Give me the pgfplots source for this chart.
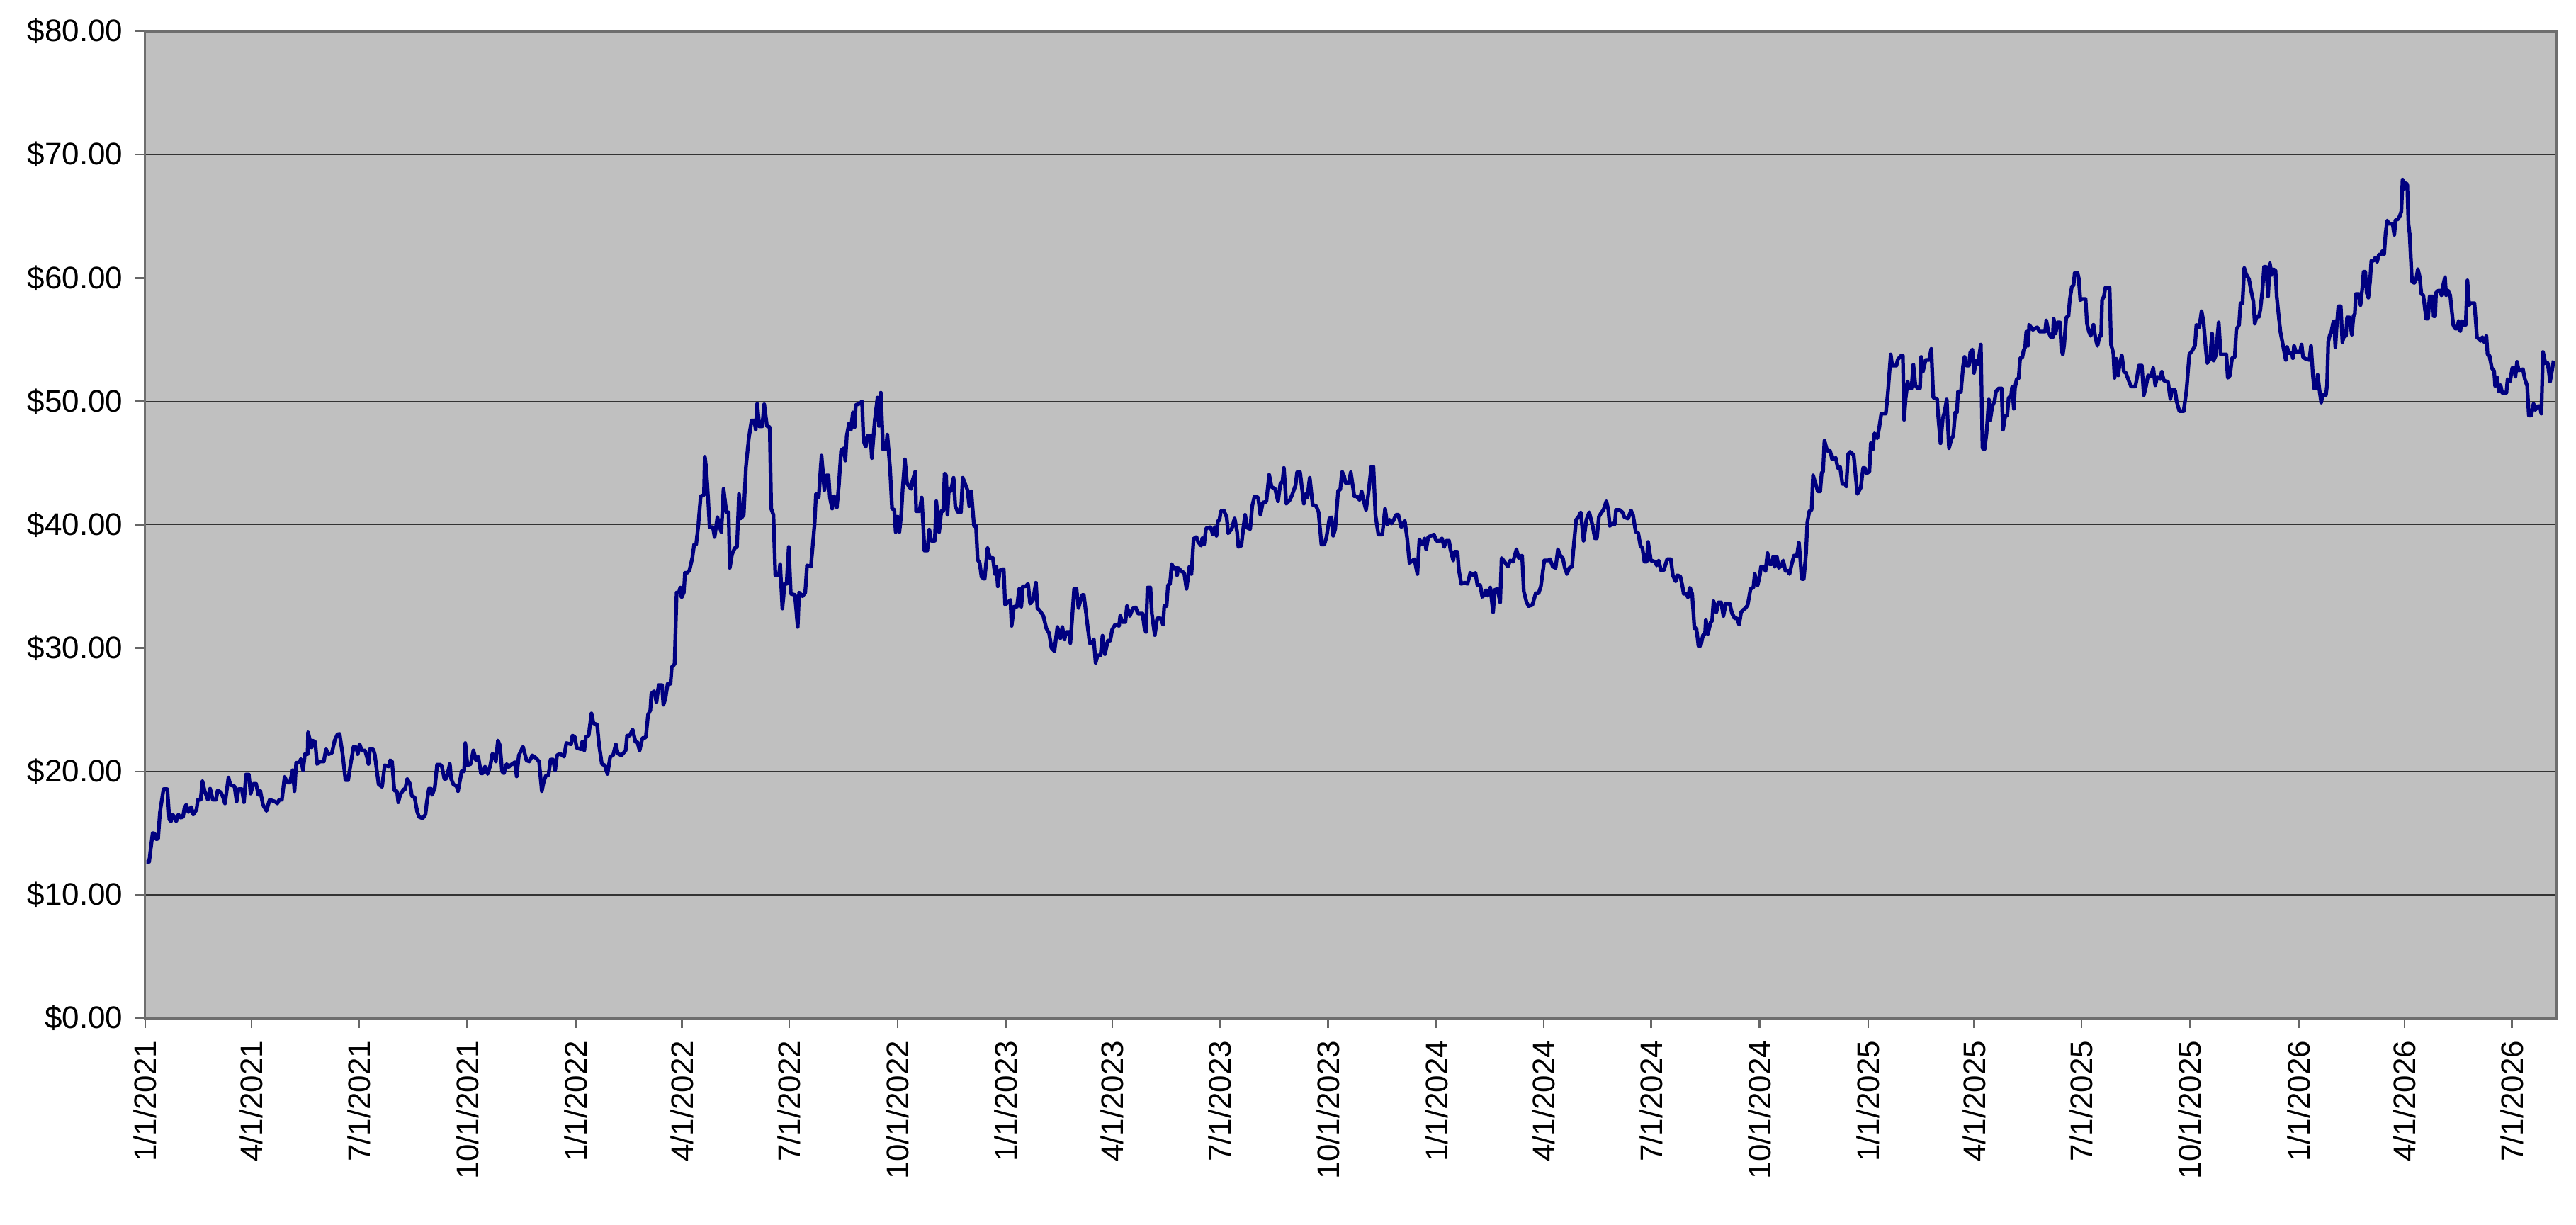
\documentclass[border=0pt]{standalone}
\usepackage{fontspec}
\setmainfont{Liberation Sans}
\usepackage{pgfplots}
\pgfplotsset{compat=1.18}
\definecolor{plotgray}{RGB}{192,192,192}
\definecolor{framegray}{RGB}{110,110,110}
\definecolor{navyline}{RGB}{0,0,128}
\begin{document}
\begin{tikzpicture}
\begin{axis}[
 width=680.6pt, height=278.6pt, scale only axis,
 xmin=0, xmax=2044.5, ymin=0, ymax=80,
 axis background/.style={fill=plotgray},
 axis line style={draw=framegray, line width=0.6pt},
 ytick={0,10,20,30,40,50,60,70,80},
 yticklabels={\$0.00,\$10.00,\$20.00,\$30.00,\$40.00,\$50.00,\$60.00,\$70.00,\$80.00},
 xtick={0,90,181,273,365,455,546,638,730,820,911,1003,1095,1186,1277,1369,1461,1551,1642,1734,1826,1916,2007},
 xticklabels={1/1/2021,4/1/2021,7/1/2021,10/1/2021,1/1/2022,4/1/2022,7/1/2022,10/1/2022,1/1/2023,4/1/2023,7/1/2023,10/1/2023,1/1/2024,4/1/2024,7/1/2024,10/1/2024,1/1/2025,4/1/2025,7/1/2025,10/1/2025,1/1/2026,4/1/2026,7/1/2026},
 xticklabel style={rotate=90, anchor=east},
 yticklabel style={anchor=east},
 tick align=outside, xtick pos=bottom, ytick pos=left,
 major tick length=2.8pt,
 tick style={draw=black!60, line width=0.5pt},
 ymajorgrids, grid style={draw=black!80, line width=0.3pt},
 tick label style={font=\fontsize{8.8}{10}\selectfont},
]
\addplot[navyline, line width=1.05pt, line join=round] table {
x y
1 12.67
3.3 12.67
6.3 15.0
7.9 14.96
9.5 14.5
10.9 14.55
12.5 16.7
15.5 18.56
18.7 18.56
20.5 16.1
21.9 15.96
23.3 16.5
26.3 15.96
28.1 16.5
29.7 16.25
32 16.3
33.2 17.0
34.8 17.3
36.6 16.7
39 17.1
40.7 16.5
43.5 16.9
44.6 17.7
47 17.7
48.5 19.2
50.4 18.4
53.1 17.7
55 18.6
57.3 17.7
60 17.7
61.4 18.45
64.2 18.3
66 17.9
67.6 17.4
70.6 19.5
72.2 18.9
75.7 18.8
77.5 17.55
79.1 18.56
81.9 18.56
83.7 17.5
85.5 19.75
87.8 19.75
89.4 18.2
91.7 19.0
94 19.0
95.9 18.1
97.5 18.45
99.8 17.3
102.8 16.8
105.5 17.7
110.1 17.55
112 17.4
113.6 17.7
115.9 17.7
118.2 19.56
120.4 19.1
122.7 19.1
125 20.1
126.6 18.4
128 20.7
130.3 20.7
132 21.0
133.8 20.1
135.4 21.4
137.7 21.4
138.1 23.16
141.1 21.95
141.8 22.5
144.1 22.4
145.7 20.6
148 20.8
151.4 20.8
153.3 21.8
155.6 21.4
158.3 21.5
160.6 22.5
163 23.0
164.8 23.04
167.5 21.3
169.8 19.3
172.1 19.3
174 20.5
176.7 22.0
179 21.95
180.2 21.4
181.8 22.2
183.6 21.7
186.4 21.7
188.2 21.1
189.3 20.6
190.5 21.8
193.3 21.8
194.6 21.4
197.9 18.95
200.8 18.75
203.1 20.5
206.6 20.4
207.7 20.9
209.3 20.8
211.2 18.45
213.5 18.4
214.6 17.5
216.2 18.1
219.2 18.56
220.4 18.56
222.2 19.4
224.5 19.0
226.1 18.0
228.4 17.9
230.7 16.7
232.3 16.3
235.3 16.2
237.6 16.5
238.7 17.45
240.6 18.6
242.2 18.6
243.3 18.1
245.6 18.7
247.5 20.55
250.2 20.55
251.5 20.4
253.7 19.4
255.3 19.4
256.7 19.94
258.3 20.6
259.4 19.4
261.3 18.95
264 18.8
265.2 18.4
267.5 19.56
268.2 20.0
270.4 20.0
271.4 22.3
273.2 20.5
276 20.6
278.3 21.7
280.5 20.9
282.4 21.2
284.7 19.85
286.5 19.85
288.1 20.4
290.4 19.8
292.7 20.5
294.3 21.4
296.2 21.35
297.3 20.8
299.1 22.5
300.8 22.1
302.6 20.0
304.2 19.85
306.5 20.6
308.1 20.35
310.4 20.55
313.4 20.75
315 19.6
316.8 21.3
320.3 22.0
323.3 20.9
325.6 20.8
328.3 21.3
331.1 21.1
334.0 20.8
336.3 18.4
338 19.2
339.8 19.66
342 19.7
343.7 20.95
345.7 20.97
347.6 20.1
349.2 21.3
351.6 21.45
355.2 21.2
357.1 22.3
361.1 22.2
362.3 22.9
364.2 22.8
365.9 21.9
369.4 21.8
370.6 22.4
372.3 21.7
373.7 22.8
376 22.9
378.4 24.7
380.1 23.9
383.2 23.8
384.8 22.2
387.2 20.6
389.6 20.5
392 19.8
394.3 21.2
396.7 21.3
399.1 22.2
400.7 21.45
403.8 21.3
407.4 21.7
408.6 22.9
410.9 22.9
413.3 23.4
415.7 22.4
417.3 22.4
419.2 21.7
421.6 22.7
424.5 22.75
426.4 24.6
428.3 24.95
429.2 26.3
431.6 26.5
433.5 25.6
435.4 27.0
438.2 27.0
439.4 25.4
441.1 25.9
443 27.1
445.4 27.1
446.5 28.45
448.9 28.7
450.6 34.5
452.5 34.5
453.7 34.9
454.8 34.1
456.7 34.5
457.7 36.1
459.6 36.1
461.5 36.3
463.9 37.3
465.5 38.4
467.2 38.4
469.1 40.05
471 42.3
473.8 42.4
474.5 45.5
475.7 44.6
477.4 42.0
478.6 39.8
481.4 39.8
482.8 39.0
485.2 40.6
486.9 39.9
488.5 39.4
490.4 42.9
492.8 41.0
494.7 41.0
495.7 36.5
497.6 37.6
499.9 38.1
501.8 38.2
503.5 42.5
505.2 40.5
507.5 40.8
509.4 44.7
511.8 47.0
514.2 48.45
516.5 48.45
517.7 47.7
518.9 49.8
520.8 47.97
523.2 47.97
524.9 49.76
527.2 48.0
529.6 47.9
530.8 41.3
532.7 40.8
534.3 35.9
537.4 35.9
538.4 36.8
540.3 33.2
542.2 35.2
543.9 35.2
545.7 38.2
547.4 34.4
551 34.3
553.3 31.7
554.5 34.5
557.4 34.2
559.7 34.5
561.2 36.7
564.5 36.6
567.6 40.05
568.8 42.5
571.1 42.2
573.5 45.6
575.9 42.8
577.8 44.0
579.4 44.0
580.6 42.2
582.5 41.3
584.2 42.3
586.5 41.4
588.2 43.2
590.1 46.0
592.5 46.2
593.7 45.2
594.9 47.2
596.8 48.2
598.4 47.7
600.1 49.1
601.5 47.9
602.5 49.7
605.5 49.8
607.9 50.0
609.1 46.8
611 46.3
612.6 47.2
615 47.2
616.2 45.4
618.6 48.4
621 50.3
622.2 48.0
623.8 50.7
625.7 46.1
628.1 46.1
629.3 47.3
631.6 44.6
633.3 41.3
635.2 41.2
636.4 39.4
638 40.65
639.5 39.4
641.1 40.8
642.3 42.9
644.2 45.3
645.9 43.4
647.5 43.1
649.4 42.9
650.6 43.55
653 44.3
653.7 41.1
656.6 41.1
658.5 42.2
660.8 37.9
663.2 37.9
664.9 39.6
666.5 38.7
669.6 38.7
670.8 41.9
673.2 39.4
675.1 41.1
676.7 41.1
677.9 44.15
679.1 44.0
680.3 40.8
681.5 42.9
683.1 42.7
685.5 43.8
686.9 41.5
689.3 41.0
691.7 41.0
693.3 43.8
695.7 43.2
697.3 42.8
698.8 41.5
700.5 42.7
702.8 39.9
704.5 39.9
705.9 37.15
707.6 36.9
709.2 35.75
711.8 35.6
714.3 38.1
716.3 37.3
718.8 37.3
720.5 36.0
721.8 36.6
723 35.0
724.7 36.3
728 36.4
729.2 33.5
733.7 33.9
734.7 31.8
736.7 33.35
739.2 33.35
741.2 34.8
742.9 33.35
744.2 35.0
746.6 35.0
748.6 35.2
750.4 33.6
752.9 33.9
755.3 35.3
756.6 33.25
759.1 32.96
761.6 32.6
764.1 31.6
766.5 31.2
768.5 30.0
771 29.75
773.5 31.7
776 30.8
777.7 31.7
779.5 30.7
781 31.3
783.5 31.3
784.5 30.4
786 32.4
787.7 34.8
789.7 34.8
791.4 33.25
794.4 34.3
795.9 34.3
797.6 33.0
800.9 30.4
803.4 30.4
804.4 30.7
805.9 28.8
807.6 29.4
810.1 29.4
811.8 31.0
813.8 29.5
816.3 30.6
818.3 30.6
820 31.5
822.5 31.9
825.8 31.8
826.8 32.6
828.7 32.1
831.2 32.1
832.5 33.4
835 32.6
837.4 33.2
839.9 33.3
841.7 32.8
845.7 32.8
847.4 31.6
848.6 31.3
849.9 34.9
852.4 34.9
853.6 32.8
856.1 31.05
858.1 32.4
861.1 32.4
863.1 31.9
864.1 33.4
866.1 33.4
867.3 35.1
869 35.2
870.5 36.8
872.3 36.4
874 36.5
875 35.9
876 36.5
879 36.2
881 36.1
883 34.8
885.5 36.6
887.2 36.0
889 38.85
891.4 39.0
892.9 38.6
895.4 38.3
896.4 38.9
897.9 38.4
899.6 39.7
903.4 39.8
905.4 39.2
907.1 39.8
908.4 39.1
909.6 40.3
910.9 40.35
912.1 41.1
914.6 41.15
917.1 40.6
918.3 39.3
921.3 39.65
923.8 40.5
925.8 39.5
927 38.2
929.5 38.3
931.2 39.75
932.7 40.8
934.5 39.75
937 39.65
938.7 41.5
940.7 42.3
943.7 42.2
945.7 40.8
947.7 41.8
950.7 41.85
953.1 44.05
955.1 43.06
958.1 42.9
960.6 41.9
962.6 43.3
964.4 43.5
965.6 44.6
967.6 41.7
970.6 42.0
972.5 42.4
975.5 43.2
976.8 44.25
979.3 44.25
982.5 41.7
984.2 42.5
985.5 42.2
987.5 43.8
990 41.6
993 41.5
995 41.0
997.4 38.4
999.9 38.4
1001.7 39.0
1004.2 40.5
1005.9 40.6
1007.4 39.1
1009.1 39.65
1011.6 42.75
1013.4 42.85
1014.9 44.3
1016.6 43.95
1017.8 43.4
1020.8 43.4
1022.3 44.25
1025.3 42.3
1027.3 42.3
1029.8 42.0
1031.5 42.7
1033.3 41.9
1035.2 41.2
1037.2 42.5
1039.7 44.7
1041.5 44.7
1043.2 40.8
1045.7 39.2
1049 39.2
1051.4 41.3
1053.2 40.0
1055.1 40.4
1057.1 40.1
1058.8 40.4
1060.6 40.8
1062.6 40.8
1065.1 39.8
1068.1 40.3
1070.1 38.9
1072.1 36.9
1076.3 37.2
1078.8 36.0
1080.5 38.8
1083 38.4
1085 38.9
1086.2 38.0
1088 39.0
1092.8 39.2
1094.7 38.7
1098.4 38.7
1099.6 38.9
1101.5 38.2
1103.2 38.7
1105.6 38.7
1106.8 38.0
1109.2 37.1
1110.4 37.8
1112.8 37.8
1114 36.3
1116 35.2
1118.9 35.3
1121.3 35.2
1123.7 36.1
1126.1 35.9
1128 36.1
1129.7 35.1
1132.1 35.1
1133.8 34.15
1135.7 34.3
1137 34.7
1138.2 34.25
1140.6 34.9
1143 32.9
1144.2 34.7
1146.6 34.8
1149 33.7
1150.2 37.3
1152.6 37.0
1155.5 36.6
1157.5 37.1
1159.9 37.0
1162.8 38.0
1164.7 37.3
1167.6 37.5
1169 34.6
1171.4 33.7
1173.1 33.4
1176.3 33.5
1179.2 34.45
1181.6 34.45
1183.5 35.0
1186.4 37.1
1190 37.1
1191.2 37.2
1193.6 36.6
1196 36.5
1198 38.0
1200.4 37.4
1202.1 37.3
1203.8 36.5
1205.7 36.0
1207.6 36.5
1210 36.6
1211 37.9
1213.4 40.4
1215.3 40.6
1217.3 41.0
1219.7 38.7
1222.1 40.4
1224.5 41.0
1227.4 39.9
1229.3 38.9
1231 38.9
1232.7 40.65
1234.6 40.95
1236.6 41.2
1239 41.9
1240.7 41.2
1241.9 39.9
1244.3 40.1
1246.2 40.05
1247.2 41.2
1250.3 41.2
1252.7 41.0
1254.4 40.6
1257.5 40.5
1259.9 41.15
1261.6 40.8
1264 39.4
1266 39.35
1267.9 38.3
1269.6 38.1
1271.3 37.0
1273.2 37.0
1274.4 38.6
1276.8 37.1
1280.4 37.0
1281.7 36.7
1283.4 37.1
1285.3 36.3
1287.7 36.3
1290.6 37.2
1293.7 37.2
1295.4 35.9
1297.8 35.4
1299.3 35.9
1301.7 35.8
1303.4 35.1
1304.6 34.4
1307 34.4
1308.2 34.1
1309.9 34.9
1311.8 34.4
1313.7 31.6
1315.4 31.6
1317.1 30.2
1319.1 30.2
1321 31.05
1322.7 31.15
1323.4 32.3
1325.1 31.15
1327.5 32.1
1328.7 32.2
1329.9 33.8
1332.3 32.9
1334 33.7
1336.4 33.7
1338.3 32.6
1340.3 33.6
1343.6 33.6
1345.6 32.8
1348 32.4
1349.9 32.4
1351.6 31.9
1353.3 32.9
1355.2 33.1
1357.2 33.25
1358.9 33.5
1361.3 34.8
1363.7 34.9
1364.9 36.0
1367.3 35.1
1369.2 35.9
1370.2 36.6
1372.6 36.6
1374 36.25
1375.7 37.7
1377.4 36.8
1379.3 36.8
1380.5 37.4
1381.7 36.6
1383.6 37.4
1385.3 36.5
1387.7 36.7
1389 37.1
1390.9 36.25
1393.4 36.25
1394.3 36.0
1396.2 36.8
1398.2 37.5
1400.6 37.45
1402.3 38.55
1403.5 37.2
1404.7 35.6
1406.4 35.6
1408.3 37.6
1409.5 40.2
1411.2 41.1
1413.1 41.2
1414.3 44.0
1416.7 43.25
1418.4 42.7
1420.4 42.7
1421.6 44.2
1422.8 44.3
1424 46.8
1426.4 45.97
1428.8 45.97
1430.5 45.3
1433.6 45.4
1435.3 44.6
1437.2 44.7
1439.2 43.3
1441.6 43.3
1442.5 43.1
1444 45.7
1445.7 45.9
1448.8 45.65
1449.8 44.6
1451.9 42.5
1454.8 43.0
1456.8 44.6
1458.4 44.6
1459.6 44.15
1462.1 44.3
1463.3 46.6
1465 46.1
1466.4 47.4
1468.8 47.0
1470.5 47.9
1472.2 49.0
1476 49.0
1477.7 50.6
1480.2 53.8
1481.4 52.9
1485 52.9
1486.2 53.4
1489.1 53.7
1490.5 53.7
1491.5 48.5
1492.9 50.3
1494.6 51.6
1495.8 51.05
1497.8 51.05
1499.4 52.97
1501.1 51.3
1503 51.05
1505 51.05
1506 53.6
1507.4 52.4
1509.8 53.35
1512.7 53.35
1514.6 54.25
1516.3 50.3
1519.5 50.2
1520.4 48.85
1522.4 46.6
1524.3 48.6
1526 49.2
1527.7 50.15
1529.6 46.2
1531.5 46.9
1533.2 47.2
1534.9 49.1
1536.3 49.1
1537.3 50.8
1539.7 50.75
1541.6 52.9
1542.8 53.6
1544.5 52.9
1546.5 52.9
1547.7 53.98
1549.4 54.2
1550.8 52.3
1552.5 53.3
1554.2 53.0
1556.6 54.6
1558 46.2
1559.7 46.1
1561.4 47.4
1563.4 50.15
1564.6 48.5
1566.3 49.6
1568.2 50.0
1569.4 50.8
1571.8 51.05
1574.2 51.05
1575.4 47.7
1577.3 48.8
1579 48.85
1580.2 50.3
1582.2 50.4
1583.1 51.15
1584.6 49.4
1585.5 51.05
1587 51.8
1588.7 51.85
1589.9 53.5
1591.8 53.55
1592.8 54.1
1594.2 54.4
1595.2 55.65
1596.6 54.5
1597.6 56.2
1600.7 55.8
1604.4 56.0
1606.3 55.65
1608.7 55.65
1611.1 55.65
1612.1 56.55
1614 55.6
1616 55.2
1617.6 55.2
1618.4 56.7
1620 55.5
1621.7 56.4
1623.7 56.4
1624.9 54.2
1626.1 53.8
1627.3 54.6
1629 56.8
1630.9 56.9
1632.1 58.3
1633.8 59.3
1635.2 59.4
1636.2 60.4
1638.6 60.4
1639.6 60.0
1641 58.2
1642.5 58.3
1645.4 58.3
1646.6 56.3
1648.3 55.65
1649.7 55.3
1652.1 56.2
1653.8 55.1
1655.5 54.5
1657.4 55.3
1658.6 55.3
1659.4 58.2
1661 58.5
1662.2 59.2
1665.8 59.2
1667 54.6
1669 53.9
1670 51.9
1671.4 53.45
1673.1 52.1
1674.3 53.1
1676.2 53.7
1677.9 52.4
1679.6 52.3
1681.5 51.8
1684 51.2
1687.6 51.2
1688.8 51.8
1690.7 52.9
1693.1 52.9
1694.8 50.5
1696.5 51.15
1698.4 52.1
1700.8 52.0
1702.8 52.7
1704.5 51.3
1706.2 52.0
1708.6 51.8
1710 52.4
1711.7 51.7
1714.1 51.6
1715.3 51.6
1717.3 50.2
1718.9 50.96
1721.3 50.9
1722.6 50.0
1725 49.2
1728.6 49.2
1731 50.9
1733.4 53.8
1735.8 54.1
1738.2 54.5
1739.4 56.2
1741.8 56.0
1743.8 57.3
1745.5 56.4
1747.2 54.4
1748.6 53.1
1751 53.45
1752.7 55.5
1753.9 53.3
1755.8 53.7
1758.3 56.4
1760 53.8
1762.3 53.8
1764.8 53.8
1766 51.9
1767.9 52.1
1769.6 53.5
1772 53.6
1773.2 55.8
1775.6 56.2
1776.8 57.95
1778.5 57.95
1780 60.8
1781.6 60.3
1784 59.9
1785.7 59.0
1787.7 58.1
1788.9 56.3
1790.6 56.9
1792.5 56.85
1793.7 57.5
1795.4 59.0
1796.8 60.9
1798.5 60.9
1800.2 58.5
1801.6 61.2
1803.3 60.25
1804.6 60.7
1806.5 60.6
1807.5 58.5
1810.6 55.65
1815.2 53.35
1816.2 54.4
1818.2 53.9
1820.2 53.95
1821.2 53.5
1822.2 54.5
1823.8 54.0
1827.2 54.0
1828.6 54.6
1829.8 53.6
1831.8 53.45
1835.2 53.35
1836.6 54.5
1838.2 52.1
1839.2 51.05
1841.2 51.05
1842.2 52.15
1843.8 50.9
1845.2 49.9
1846.6 50.5
1849.2 50.5
1850.2 51.3
1851.2 54.8
1852.6 55.4
1853.8 55.6
1855.2 56.3
1856.2 56.5
1857.2 54.4
1858.2 55.9
1859.8 57.7
1861.8 57.7
1863.2 54.8
1864.6 55.3
1866.2 55.3
1867.2 56.8
1869.2 56.8
1871.2 55.4
1872.6 56.9
1873.8 57.1
1874.6 58.7
1877.2 58.7
1878.6 57.8
1880.2 59.3
1881.2 60.5
1882.6 60.5
1883.8 58.8
1885.2 58.4
1886.6 59.7
1887.8 61.4
1889.8 61.4
1891.2 61.65
1892.6 61.3
1894.2 61.9
1896.2 61.9
1897.2 62.2
1898.6 61.9
1899.8 63.6
1901.2 64.65
1902.6 64.4
1905.8 64.4
1907.2 63.5
1908.2 64.7
1910.2 64.75
1911.8 65.0
1913.2 65.4
1914.2 67.97
1915.2 67.2
1916.2 67.7
1918.2 67.6
1919.2 64.4
1920.2 63.6
1922.2 59.7
1924.2 59.6
1925.8 59.9
1927.2 60.7
1928.6 60.15
1930.2 58.7
1931.8 58.6
1934.2 56.7
1935.8 56.7
1937.2 58.5
1939.8 58.5
1940.6 56.9
1941.8 56.9
1942.6 58.8
1944.6 58.97
1946.2 58.97
1947.2 58.6
1948.6 59.4
1950.2 60.06
1951.2 58.6
1952.6 59.0
1954.6 58.6
1957.2 56.2
1958.6 55.9
1960.6 55.9
1961.8 56.5
1963.2 55.7
1964.6 56.5
1966.2 56.2
1967.8 56.2
1969.2 59.8
1970.6 57.8
1972.2 57.95
1975.2 57.95
1977.3 55.2
1980.3 54.9
1981.9 55.2
1983.3 54.8
1985.3 55.3
1986.3 53.8
1987.9 53.7
1989.9 52.7
1991.9 52.45
1992.7 51.25
1994.3 51.95
1995.9 50.8
1997.3 51.3
1998.7 50.7
2002.3 50.7
2003.3 51.8
2005.3 51.6
2007.3 52.7
2009.3 52.7
2009.9 52.0
2011.3 53.2
2012.7 52.5
2016.3 52.6
2017.9 51.8
2019.9 51.25
2021.3 48.85
2023.3 48.85
2025.3 49.8
2026.7 49.3
2028.7 49.6
2030.7 49.6
2031.9 49.0
2033.3 54.0
2035.3 53.1
2037.3 53.1
2039.3 51.6
2041.3 52.7
2042.3 53.3
};
\end{axis}
\pgfresetboundingbox
\path[use as bounding box] (-41pt,-58.2pt) rectangle (686.2pt,287.4pt);
\end{tikzpicture}
\end{document}
